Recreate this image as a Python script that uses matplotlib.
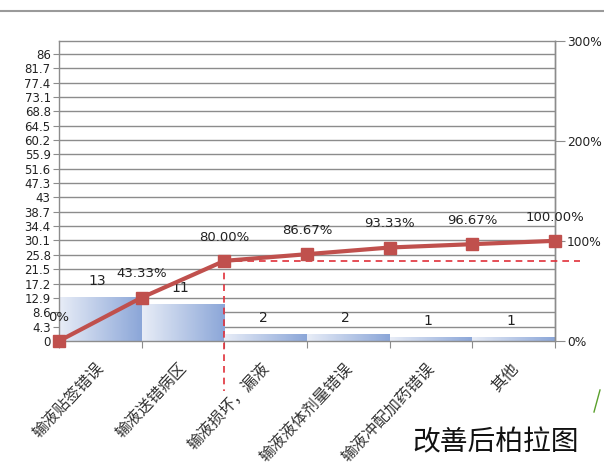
import numpy as np
import matplotlib
matplotlib.use("Agg")
import matplotlib.pyplot as plt
from matplotlib.colors import LinearSegmentedColormap
from matplotlib.lines import Line2D

categories = ["输液贴签错误", "输液送错病区", "输液损坏，漏液", "输液液体剂量错误", "输液冲配加药错误", "其他"]
counts = [13, 11, 2, 2, 1, 1]
cum_pct = [0, 43.33, 80.00, 86.67, 93.33, 96.67, 100.00]
left_ticks = [0, 4.3, 8.6, 12.9, 17.2, 21.5, 25.8, 30.1, 34.4, 38.7, 43, 47.3,
              51.6, 55.9, 60.2, 64.5, 68.8, 73.1, 77.4, 81.7, 86]
right_ticks = [0, 100, 200, 300]
title = "改善后柏拉图"

plt.rcParams['font.family'] = ['DejaVu Sans', 'Noto Sans CJK SC']

fig = plt.figure(figsize=(6.04, 4.72), dpi=100)
ax = fig.add_axes([59 / 604, 1 - 341 / 472, (555 - 59) / 604, (341 - 40.5) / 472])
ax2 = ax.twinx()

n = len(categories)
ax.set_xlim(0, n)
ax.set_ylim(0, 90)
ax2.set_ylim(0, 300)

grid_c = '#8c8c8c'
for t in left_ticks:
    ax.axhline(t, color=grid_c, lw=1, zorder=1)

# gradient bars
cmap = LinearSegmentedColormap.from_list('bg', ['#e8edf7', '#8ba6d8'])
grad = np.linspace(0, 1, 256).reshape(1, -1)
for i, v in enumerate(counts):
    ax.imshow(grad, cmap=cmap, extent=(i, i + 1, 0, v), aspect='auto', zorder=2)
    ax.annotate(str(v), (i + 0.5, v), xytext=(-2, 12), textcoords='offset points',
                ha='center', va='center', fontsize=10, color='#222222', zorder=6)
ax.set_xlim(0, n)
ax.set_ylim(0, 90)

ax.set_yticks(left_ticks)
ax.set_yticklabels([f"{t:g}" for t in left_ticks], fontsize=8.5, color='#222222')
ax.tick_params(axis='y', length=4, color=grid_c, pad=2)

ax.set_xticks(np.arange(n + 1))
ax.set_xticklabels([])
ax.tick_params(axis='x', length=5, color=grid_c)
for i, c in enumerate(categories):
    ax.text(i + 0.52, -7.5, c, rotation=47, rotation_mode='anchor', ha='right', va='center',
            fontsize=11.5, family=['Noto Sans CJK SC'], color='#333333')

# cumulative line
xs = np.arange(n + 1)
ax2.plot(xs, cum_pct, color='#c0504d', lw=3, marker='s', markersize=9, zorder=5, clip_on=False)
for x, p in zip(xs, cum_pct):
    lab = "0%" if p == 0 else f"{p:.2f}%"
    ax2.annotate(lab, (x, p), xytext=(0, 17), textcoords='offset points',
                 ha='center', va='center', fontsize=9.5, color='#222222')

ax2.set_yticks(right_ticks)
ax2.set_yticklabels([f"{t}%" for t in right_ticks], fontsize=8.8, color='#222222')
ax2.tick_params(axis='y', length=7, color=grid_c, pad=1.5)

# 80% reference lines
ax2.plot([2, 2], [80, -50], color='#e0303a', lw=1.2, ls=(0, (4, 3)), clip_on=False, zorder=4)
ax2.plot([2, 6.3], [80, 80], color='#e0303a', lw=1.2, ls=(0, (4, 3)), clip_on=False, zorder=4)

for a in (ax, ax2):
    for s in a.spines.values():
        s.set_color(grid_c)
        s.set_linewidth(1)
ax2.spines['top'].set_visible(False)
ax2.spines['bottom'].set_visible(False)
ax2.spines['left'].set_visible(False)

fig.text(496 / 604, 1 - 442 / 472, title, fontsize=20, family=['Noto Sans CJK SC'],
         ha='center', va='center', color='#111111')

# top border and stray mark
fig.add_artist(Line2D([0, 1], [1 - 10.5 / 472] * 2, color='#9a9a9a', lw=1.5))
fig.add_artist(Line2D([594 / 604, 600 / 604], [1 - 412 / 472, 1 - 390 / 472], color='#5aa02c', lw=1))

fig.savefig("out.png", dpi=100)
